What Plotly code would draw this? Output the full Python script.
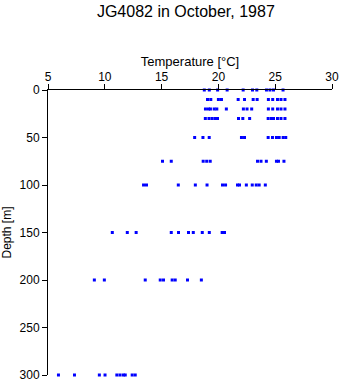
import plotly.graph_objects as go

# Depth levels [m] and temperature readings [°C] at each level
depth_levels = [0, 10, 20, 30, 50, 75, 100, 150, 200, 300]

temp_0 = [18.76, 19.2, 19.93, 20.77, 22.18, 23.0, 23.38, 24.23, 24.54, 24.85, 25.69]
temp_10 = [19.04, 19.33, 20.0, 20.27, 21.74, 22.3, 23.06, 23.41, 24.4, 24.78, 25.2, 25.51, 25.86]
temp_20 = [18.86, 19.13, 19.3, 19.63, 19.86, 20.7, 22.2, 22.52, 22.93, 24.4, 24.78, 25.2, 25.51, 25.86]
temp_30 = [18.85, 19.17, 19.44, 19.7, 19.92, 21.77, 22.15, 22.75, 24.38, 24.67, 24.85, 25.2, 25.51, 25.86]
temp_50 = [17.91, 18.64, 19.19, 22.03, 22.3, 24.38, 24.76, 25.11, 25.35, 25.7, 25.93]
temp_75 = [15.08, 15.85, 18.66, 18.97, 19.28, 23.44, 23.75, 24.22, 25.11, 25.29, 25.77]
temp_100 = [13.41, 13.67, 16.47, 17.97, 19.0, 20.36, 20.63, 21.68, 21.86, 22.46, 22.98, 23.33, 23.59, 24.13]
temp_150 = [10.66, 11.98, 12.76, 15.85, 16.49, 17.37, 17.79, 18.58, 19.2, 20.33, 20.54]
temp_200 = [9.08, 9.96, 13.56, 14.88, 15.17, 15.93, 16.2, 17.28, 18.5]
temp_300 = [5.92, 7.33, 9.52, 10.02, 11.06, 11.34, 11.63, 11.8, 12.41, 12.68]

temps_by_level = [temp_0, temp_10, temp_20, temp_30, temp_50, temp_75,
                  temp_100, temp_150, temp_200, temp_300]

x_ticks = [5, 10, 15, 20, 25, 30]
y_ticks = [0, 50, 100, 150, 200, 250, 300]

xs, ys = [], []
for d, ts in zip(depth_levels, temps_by_level):
    xs.extend(ts)
    ys.extend([d] * len(ts))

fig = go.Figure(go.Scatter(
    x=xs, y=ys, mode="markers",
    marker=dict(symbol="square", size=3, color="#0000ff", line=dict(width=0)),
    cliponaxis=False, showlegend=False,
))

font = "Liberation Sans, Arial, Helvetica, sans-serif"
fig.update_layout(
    width=341, height=384,
    margin=dict(l=48, r=9, t=90, b=9),
    paper_bgcolor="white", plot_bgcolor="white",
    font=dict(family=font, size=12, color="black"),
    title=dict(text="JG4082 in October, 1987", x=0.545, xanchor="center",
               y=0.971, yanchor="middle", yref="container",
               font=dict(size=16, color="black")),
    xaxis=dict(range=[5, 30], side="top", tickvals=x_ticks,
               ticks="outside", ticklen=5, tickcolor="black",
               showline=True, linecolor="black", linewidth=1,
               showgrid=False, zeroline=False, automargin=False,
               ticklabelstandoff=-2,
               title=dict(text="Temperature [°C]", font=dict(size=13), standoff=0),
               tickfont=dict(size=12)),
    yaxis=dict(range=[300, 0], tickvals=y_ticks,
               ticks="outside", ticklen=5, tickcolor="black",
               showline=True, linecolor="black", linewidth=1,
               showgrid=False, zeroline=False, automargin=False,
               title=dict(text="Depth [m]", font=dict(size=12), standoff=8),
               tickfont=dict(size=12)),
)

fig.write_html("out.html",
               config={"displayModeBar": False},
               post_script="document.body.style.margin='0';document.body.style.padding='0';")
